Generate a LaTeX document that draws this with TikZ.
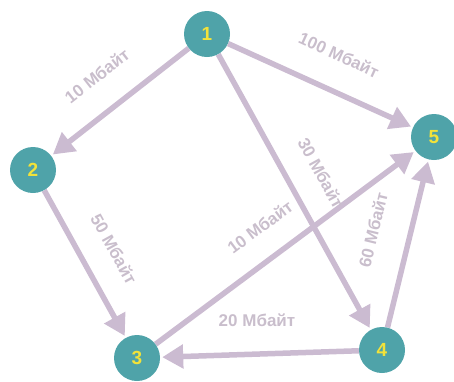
\documentclass[tikz,border=0pt]{standalone}
\usepackage{fontspec}
\setmainfont{Liberation Sans}
\usetikzlibrary{arrows.meta,backgrounds}
\definecolor{nodeteal}{HTML}{4FA3A9}
\definecolor{numyellow}{HTML}{F2E23A}
\definecolor{linkmauve}{HTML}{CBBBD1}
\definecolor{labelgrey}{HTML}{C9BECC}
\tikzset{
  host/.style={circle, fill=nodeteal, minimum size=46pt, inner sep=0pt,
    text=numyellow, font=\bfseries\fontsize{19}{19}\selectfont},
  link/.style={draw=linkmauve, line width=5.5pt,
    -{Triangle[length=21pt,width=23pt]}, shorten >=2pt},
  rate/.style={text=labelgrey, font=\bfseries\fontsize{17}{17}\selectfont, inner sep=0pt}
}
\begin{document}
\begin{tikzpicture}[x=1pt,y=-1pt]
\useasboundingbox (0,0) rectangle (454,381);
% hosts
\node[host] (n1) at (207,34) {1};
\node[host] (n2) at (33,170) {2};
\node[host] (n3) at (137,358) {3};
\node[host] (n4) at (382,350) {4};
\node[host] (n5) at (434,137) {5};
% links, drawn beneath the hosts
\begin{pgfonlayer}{background}
\draw[link] (n1) -- (n2);
\draw[link] (n1) -- (n5);
\draw[link] (n1) -- (n4);
\draw[link] (n2) -- (n3);
\draw[link] (n3) -- (n5);
\draw[link] (n4) -- (n3);
\draw[link] (n4) -- (n5);
\end{pgfonlayer}
% rates
\node[rate, rotate=38] (r12) at (97,76) {10 Мбайт};
\node[rate, rotate=-24.6] (r15) at (339,55) {100 Мбайт};
\node[rate, rotate=-61] (r14) at (321,173) {30 Мбайт};
\node[rate, rotate=-61] (r23) at (114,249) {50 Мбайт};
\node[rate, rotate=36.7] (r35) at (260,227) {10 Мбайт};
\node[rate, rotate=76.3] (r45) at (373,230) {60 Мбайт};
\node[rate] (r43) at (257,320) {20 Мбайт};
\end{tikzpicture}
\end{document}
